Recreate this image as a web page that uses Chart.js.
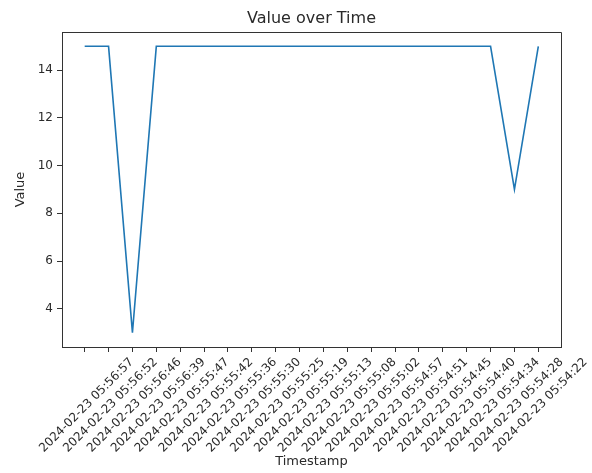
<!DOCTYPE html>
<html>
<head>
<meta charset="utf-8">
<script src="https://cdn.jsdelivr.net/npm/chart.js@4.4.1/dist/chart.umd.min.js"></script>
<style>
    html, body { margin: 0; padding: 0; background: #ffffff; }
    #wrap { width: 592px; height: 473px; }
</style>
</head>
<body>
<div id="wrap"><canvas id="value-chart" width="592" height="473"></canvas></div>
<script>
// Chart data
const timestamps = [
    '2024-02-23 05:56:57', '2024-02-23 05:56:52', '2024-02-23 05:56:46', '2024-02-23 05:56:39',
    '2024-02-23 05:55:47', '2024-02-23 05:55:42', '2024-02-23 05:55:36', '2024-02-23 05:55:30',
    '2024-02-23 05:55:25', '2024-02-23 05:55:19', '2024-02-23 05:55:13', '2024-02-23 05:55:08',
    '2024-02-23 05:55:02', '2024-02-23 05:54:57', '2024-02-23 05:54:51', '2024-02-23 05:54:45',
    '2024-02-23 05:54:40', '2024-02-23 05:54:34', '2024-02-23 05:54:28', '2024-02-23 05:54:22'
];
const values = [15, 15, 3, 15, 15, 15, 15, 15, 15, 15, 15, 15, 15, 15, 15, 15, 15, 15, 9, 15];
const yTicks = [4, 6, 8, 10, 12, 14];
const chartTitle = 'Value over Time';

const lineColor = '#1f77b4';
const textColor = '#2a2a2a';
const fontFamily = '"DejaVu Sans", sans-serif';
const tickFontSize = 12;

// matplotlib style rotated labels, centred under each tick
const rotatedLabels = {
    id: 'rotatedLabels',
    afterDraw(chart) {
        const ctx = chart.ctx;
        const xScale = chart.scales.x;
        const axisY = chart.chartArea.bottom;
        ctx.save();
        ctx.font = `${tickFontSize}px ${fontFamily}`;
        ctx.fillStyle = textColor;
        ctx.textAlign = 'center';
        ctx.textBaseline = 'middle';
        timestamps.forEach((label, i) => {
            const px = xScale.getPixelForValue(i);
            const w = ctx.measureText(label).width;
            const side = (w + tickFontSize) * Math.SQRT1_2;
            ctx.save();
            ctx.translate(px + 2, axisY + 9 + side / 2);
            ctx.rotate(-Math.PI / 4);
            ctx.fillText(label, 0, 0);
            ctx.restore();
        });
        ctx.restore();
    }
};

// title centred over the plot area, and the top/right spines
const frameAndTitle = {
    id: 'frameAndTitle',
    afterDraw(chart) {
        const a = chart.chartArea;
        const c = chart.ctx;
        c.save();
        c.strokeStyle = '#333333';
        c.lineWidth = 1;
        c.beginPath();
        c.moveTo(a.left, a.top + 0.5);
        c.lineTo(a.right + 0.5, a.top + 0.5);
        c.lineTo(a.right + 0.5, a.bottom);
        c.stroke();
        c.font = `16px ${fontFamily}`;
        c.fillStyle = textColor;
        c.textAlign = 'center';
        c.textBaseline = 'middle';
        c.fillText(chartTitle, (a.left + a.right) / 2, 19);
        c.restore();
    }
};

const ctx = document.getElementById('value-chart').getContext('2d');

const valueChart = new Chart(ctx, {
    type: 'line',
    data: {
        datasets: [{
            label: 'Value',
            data: values.map((v, i) => ({x: i, y: v})),
            borderColor: lineColor,
            borderWidth: 1.6,
            pointRadius: 0,
            fill: false,
            tension: 0
        }]
    },
    options: {
        responsive: false,
        animation: false,
        layout: {
            padding: {left: 0, right: 31, top: 32, bottom: 0}
        },
        scales: {
            x: {
                type: 'linear',
                min: -0.95,
                max: 19.95,
                afterBuildTicks: scale => {
                    scale.ticks = timestamps.map((_, i) => ({value: i}));
                },
                afterFit: scale => { scale.height = 126; },
                ticks: {display: false},
                grid: {
                    drawOnChartArea: false,
                    drawTicks: true,
                    tickLength: 5,
                    color: '#333333'
                },
                border: {display: true, color: '#333333', width: 1},
                title: {
                    display: true,
                    text: 'Timestamp',
                    color: textColor,
                    font: {family: fontFamily, size: 13},
                    padding: {top: 0, bottom: 4}
                }
            },
            y: {
                min: 2.4,
                max: 15.6,
                afterBuildTicks: scale => {
                    scale.ticks = yTicks.map(v => ({value: v}));
                },
                afterFit: scale => { scale.width = 62; },
                ticks: {
                    color: textColor,
                    font: {family: fontFamily, size: tickFontSize},
                    padding: 4
                },
                grid: {
                    drawOnChartArea: false,
                    drawTicks: true,
                    tickLength: 5,
                    color: '#333333'
                },
                border: {display: true, color: '#333333', width: 1},
                title: {
                    display: true,
                    text: 'Value',
                    color: textColor,
                    font: {family: fontFamily, size: 13},
                    padding: {top: 13, bottom: 0}
                }
            }
        },
        plugins: {
            legend: {display: false},
            tooltip: {enabled: false},
            title: {display: false}
        }
    },
    plugins: [rotatedLabels, frameAndTitle]
});
</script>
</body>
</html>
